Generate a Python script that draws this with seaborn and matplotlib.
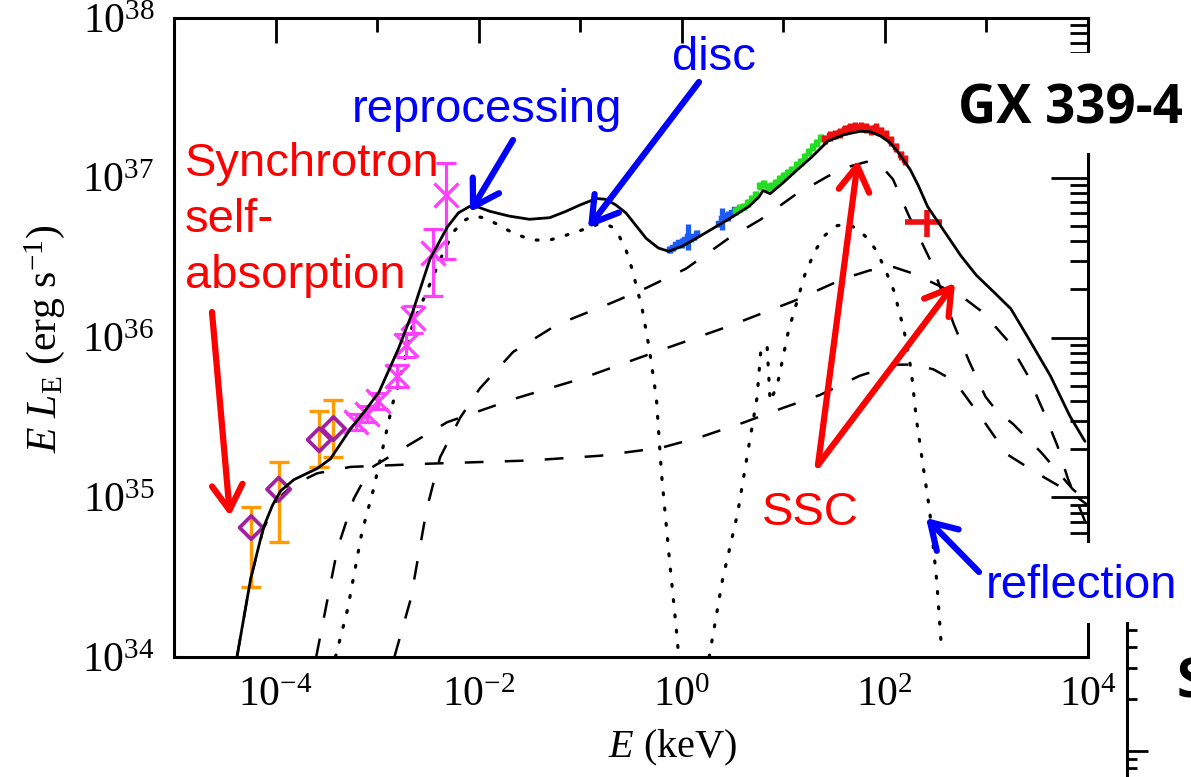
import numpy as np
import pandas as pd
import matplotlib
matplotlib.use("Agg")
import matplotlib.pyplot as plt
import seaborn as sns
from matplotlib.patches import Rectangle
from matplotlib.ticker import FixedLocator, NullFormatter, LogLocator

# ---------------- data (log10 values) ----------------
total_logE = [-4.38, -4.245, -4.12, -4.03, -3.95, -3.82, -3.59, -3.46, -3.26, -3.12, -2.98, -2.79, -2.65,
              -2.48, -2.31, -2.2, -2.09, -2.0, -1.89, -1.7, -1.5, -1.3, -1.14, -1.0, -0.84, -0.75, -0.65,
              -0.55, -0.45, -0.35, -0.23, -0.13, 0.0, 0.14, 0.3, 0.46, 0.66, 0.76, 0.80, 0.87, 1.0,
              1.12, 1.28, 1.44, 1.6, 1.75, 1.85, 1.96, 2.05, 2.13, 2.25, 2.33, 2.42, 2.59, 2.75,
              2.90, 3.08, 3.24, 3.40, 3.63, 3.82, 3.97]
total_logL = [34.0, 34.49, 34.81, 34.95, 35.04, 35.11, 35.18, 35.24, 35.43, 35.54, 35.66, 35.93, 36.16,
              36.49, 36.69, 36.78, 36.82, 36.815, 36.79, 36.76, 36.74, 36.75, 36.79, 36.83, 36.87, 36.865,
              36.83, 36.78, 36.70, 36.62, 36.56, 36.54, 36.57, 36.62, 36.68, 36.74, 36.82, 36.88, 36.92,
              36.90, 36.97, 37.04, 37.13, 37.23, 37.27, 37.29, 37.29, 37.26, 37.22, 37.16, 37.05, 36.95,
              36.82, 36.66, 36.51, 36.39, 36.28, 36.18, 36.01, 35.76, 35.51, 35.35]

compA_logE = [-4.38, -4.245, -4.12, -3.98, -3.82, -3.59, -3.26, -2.5, -1.5, -0.8, -0.2, 0.2, 0.62,
              1.0, 1.36, 1.75, 1.95, 2.12, 2.3, 2.48, 2.62, 2.74, 2.97, 3.2, 3.5, 3.85, 4.0]
compA_logL = [34.0, 34.49, 34.8, 34.99, 35.08, 35.15, 35.19, 35.21, 35.23, 35.26, 35.31, 35.38, 35.47,
              35.56, 35.64, 35.76, 35.80, 35.83, 35.83, 35.80, 35.75, 35.68, 35.48, 35.27, 35.15, 35.02, 34.95]

compB_logE = [-3.6, -3.39, -3.23, -3.07, -2.68, -2.31, -1.63, -1.0, -0.3, 0.46, 1.11, 1.60, 1.85, 2.09,
              2.28, 2.58, 2.73, 2.96, 3.21, 3.40, 3.56, 3.70, 3.80, 3.97]
compB_logL = [34.0, 34.68, 34.99, 35.18, 35.33, 35.47, 35.62, 35.74, 35.9, 36.07, 36.23, 36.37, 36.42, 36.44,
              36.40, 36.31, 36.27, 36.16, 35.98, 35.77, 35.54, 35.32, 35.12, 34.85]

compC_logE = [-2.83, -2.67, -2.51, -2.38, -2.18, -1.99, -1.66, -1.23, -0.68, -0.35, 0.04, 0.46, 0.78,
              1.11, 1.44, 1.65, 1.82, 1.97, 2.08, 2.23, 2.45, 2.68, 2.83, 2.99, 3.1, 3.26, 3.54, 3.85, 4.0]
compC_logL = [34.0, 34.36, 34.93, 35.25, 35.5, 35.68, 35.91, 36.08, 36.22, 36.31, 36.43, 36.62, 36.74,
              36.89, 37.01, 37.07, 37.10, 37.07, 36.99, 36.77, 36.48, 36.08, 35.85, 35.63, 35.54, 35.46,
              35.28, 35.05, 34.97]

reproc_logE = [-3.41, -3.29, -3.15, -3.04, -2.95, -2.85, -2.79, -2.65, -2.45, -2.35, -2.25, -2.15, -2.06,
               -1.95, -1.82, -1.65, -1.47, -1.3, -1.14, -0.95, -0.82, -0.75, -0.68, -0.62, -0.55, -0.49,
               -0.39, -0.32, -0.25, -0.2, -0.12, -0.05, -0.03]
reproc_logL = [34.0, 34.3, 34.78, 35.04, 35.29, 35.58, 35.7, 36.08, 36.38, 36.53, 36.66, 36.73, 36.76,
               36.75, 36.71, 36.65, 36.61, 36.61, 36.64, 36.68, 36.71, 36.71, 36.69, 36.64, 36.55, 36.43,
               36.18, 35.93, 35.62, 35.15, 34.6, 34.15, 34.0]

refl_logE = [0.27, 0.40, 0.55, 0.66, 0.74, 0.78, 0.84, 0.87, 0.94, 1.05, 1.21, 1.31, 1.41, 1.53, 1.63,
             1.73, 1.83, 1.92, 2.0, 2.09, 2.19, 2.26, 2.31, 2.38, 2.44, 2.51, 2.56]
refl_logL = [34.0, 34.48, 34.9, 35.32, 35.62, 35.93, 35.95, 35.6, 35.70, 36.04, 36.39, 36.54, 36.64, 36.70,
             36.71, 36.68, 36.62, 36.54, 36.43, 36.29, 36.04, 35.79, 35.49, 35.18, 34.92, 34.48, 34.03]

# radio/sub-mm points (purple diamonds, orange errors)
radio_logE = [-4.24, -3.97, -3.57, -3.43]
radio_logL = [34.81, 35.05, 35.36, 35.43]
radio_lo = [34.44, 34.72, 35.19, 35.25]
radio_hi = [34.94, 35.22, 35.54, 35.61]

# IR/optical points (magenta crosses)
ir_logE = [-3.21, -3.10, -2.99, -2.80, -2.72, -2.65, -2.45, -2.32]
ir_logL = [35.47, 35.52, 35.60, 35.76, 35.95, 36.12, 36.53, 36.89]
ir_lo = [35.42, 35.47, 35.55, 35.69, 35.88, 36.03, 36.26, 36.49]
ir_hi = [35.52, 35.57, 35.65, 35.83, 36.02, 36.20, 36.68, 37.09]

# X-ray data
blue_logE = [-0.12, -0.09, -0.06, -0.03, 0.0, 0.03, 0.06, 0.09, 0.12, 0.15, 0.37, 0.40, 0.43, 0.46, 0.49, 0.52]
blue_logL = [36.55, 36.56, 36.58, 36.59, 36.59, 36.61, 36.63, 36.62, 36.63, 36.65, 36.71, 36.74, 36.75, 36.76, 36.78, 36.80]
blue_err = [0.02, 0.02, 0.02, 0.02, 0.03, 0.02, 0.08, 0.02, 0.02, 0.02, 0.02, 0.07, 0.02, 0.03, 0.02, 0.02]

green_logE = [0.53, 0.57, 0.61, 0.65, 0.69, 0.73, 0.77, 0.81, 0.85, 0.89, 0.93, 0.97, 1.01, 1.05, 1.09,
              1.13, 1.17, 1.21, 1.25, 1.29, 1.33, 1.37]
green_logL = [36.79, 36.81, 36.82, 36.84, 36.87, 36.89, 36.95, 36.96, 36.94, 36.95, 36.97, 36.99, 37.01,
              37.03, 37.05, 37.08, 37.10, 37.13, 37.16, 37.19, 37.22, 37.25]

red_logE = [1.41, 1.46, 1.51, 1.56, 1.61, 1.66, 1.71, 1.76, 1.81, 1.86, 1.91, 1.96, 2.01, 2.06, 2.11, 2.16, 2.20]
red_logL = [37.24, 37.26, 37.27, 37.28, 37.30, 37.31, 37.32, 37.32, 37.31, 37.30, 37.31, 37.29, 37.27,
            37.23, 37.19, 37.14, 37.11]

gamma_logE = [2.41]
gamma_logL = [36.72]
gamma_xlo, gamma_xhi = [2.20], [2.56]
gamma_ylo, gamma_yhi = [36.63], [36.80]

xtick_labels = [r"$10^{-4}$", r"$10^{-2}$", r"$10^{0}$", r"$10^{2}$", r"$10^{4}$"]
ytick_labels = [r"$10^{34}$", r"$10^{35}$", r"$10^{36}$", r"$10^{37}$", r"$10^{38}$"]

# ---------------- style ----------------
sns.set_theme(style="white")
plt.rcParams["font.family"] = ["Liberation Serif", "DejaVu Serif"]
plt.rcParams["mathtext.fontset"] = "custom"
plt.rcParams["mathtext.rm"] = "Liberation Serif"
plt.rcParams["mathtext.it"] = "Liberation Serif:italic"
plt.rcParams["mathtext.bf"] = "Liberation Serif:bold"

W, H = 1191, 777
fig = plt.figure(figsize=(W / 100, H / 100), dpi=100)
fig.patch.set_facecolor("white")
ax = fig.add_axes([174 / W, 1 - 657 / H, (1088 - 174) / W, (657 - 18) / H])
ax.set_facecolor("white")
ax.set_xscale("log")
ax.set_yscale("log")


def lin(v):
    return 10 ** np.asarray(v, dtype=float)


def curve(logE, logL, **kw):
    df = pd.DataFrame({"E": lin(logE), "L": lin(logL)})
    sns.lineplot(data=df, x="E", y="L", ax=ax, sort=False, estimator=None, **kw)


DOT = dict(color="black", lw=2.3, linestyle=(0, (0.6, 4.2)), dash_capstyle="round", zorder=2)
curve(reproc_logE, reproc_logL, **DOT)
curve(refl_logE, refl_logL, **DOT)
for le, ll in [(compA_logE, compA_logL), (compB_logE, compB_logL), (compC_logE, compC_logL)]:
    curve(le, ll, color="black", lw=1.8, linestyle=(0, (7.5, 8.5)), zorder=2)

# data points
def yerr(logL, lo, hi):
    L = lin(logL)
    return np.vstack([L - lin(lo), lin(hi) - L])


ax.errorbar(lin(radio_logE), lin(radio_logL), yerr=yerr(radio_logL, radio_lo, radio_hi), fmt="none",
            ecolor="#ff9a00", elinewidth=2.4, capsize=7, capthick=2.4, zorder=3)
sns.scatterplot(x=lin(radio_logE), y=lin(radio_logL), ax=ax, marker="D", s=140,
                facecolors="none", edgecolor="#a0209f", linewidth=2.7, zorder=4)

ax.errorbar(lin(ir_logE), lin(ir_logL), yerr=yerr(ir_logL, ir_lo, ir_hi), fmt="none",
            ecolor="#ff40ff", elinewidth=2.3, capsize=7, capthick=2.3, zorder=3)
sns.scatterplot(x=lin(ir_logE), y=lin(ir_logL), ax=ax, marker="x", s=300, color="#ff40ff",
                linewidth=2.4, zorder=4)

def xray(logE, logL, err, color):
    E = lin(logE)
    L = lin(logL)
    xe = np.vstack([E - E * 10 ** -0.017, E * 10 ** 0.017 - E])
    ye = np.vstack([L - L * 10 ** -np.asarray(err), L * 10 ** np.asarray(err) - L])
    ax.errorbar(E, L, xerr=xe, yerr=ye, fmt="none", ecolor=color, elinewidth=3.8, zorder=3)
    sns.scatterplot(x=E, y=L, ax=ax, marker="s", s=16, color=color, edgecolor=color, zorder=3)


xray(blue_logE, blue_logL, blue_err, "#1a5cf5")
xray(green_logE, green_logL, [0.025] * len(green_logE), "#22dd22")
xray(red_logE, red_logL, [0.03] * len(red_logE), "#ee1010")

gE, gL = lin(gamma_logE), lin(gamma_logL)
ax.errorbar(gE, gL, xerr=np.vstack([gE - lin(gamma_xlo), lin(gamma_xhi) - gE]),
            yerr=yerr(gamma_logL, gamma_ylo, gamma_yhi), fmt="none", ecolor="#ee1010",
            elinewidth=4, zorder=3)

curve(total_logE, total_logL, color="black", lw=2.0, zorder=5)

ax.set_xlim(1e-5, 1e4)
ax.set_ylim(1e34, 1e38)
ax.set_xlabel("")
ax.set_ylabel("")

ax.xaxis.set_major_locator(FixedLocator([1e-4, 1e-2, 1e0, 1e2, 1e4]))
ax.xaxis.set_minor_locator(FixedLocator([1e-3, 1e-1, 1e1, 1e3]))
ax.xaxis.set_minor_formatter(NullFormatter())
ax.set_xticklabels(xtick_labels)
ax.yaxis.set_major_locator(FixedLocator([1e34, 1e35, 1e36, 1e37, 1e38]))
ax.yaxis.set_minor_locator(LogLocator(base=10, subs=np.arange(2, 10)))
ax.yaxis.set_minor_formatter(NullFormatter())
ax.set_yticklabels(ytick_labels)

ax.tick_params(which="both", direction="in", top=True, right=True, color="black", width=2,
               labelsize=30, labelcolor="black")
ax.tick_params(axis="x", which="major", length=18, pad=14)
ax.tick_params(axis="x", which="minor", length=10)
ax.tick_params(axis="y", which="major", length=27, pad=14)
ax.tick_params(axis="y", which="minor", length=13)
for sp in ax.spines.values():
    sp.set_color("black")
    sp.set_linewidth(2.2)
    sp.set_visible(True)

# axis titles
fig.text(673 / W, 1 - 748 / H, r"$E$ (keV)", ha="center", va="center", fontsize=29, color="black")
fig.text(45 / W, 1 - 339 / H, r"$E\ L_{\mathrm{E}}$ (erg s$^{\mathrm{-1}}$)", ha="center", va="center",
         rotation=90, fontsize=30, color="black")

# white cover boxes (slide overlay)
FT = fig.transFigure


def fx(x):
    return x / W


def fy(y):
    return 1 - y / H


for (x0, y0, x1, y1) in [(945, 53, 1191, 153), (980, 543, 1191, 623)]:
    ax.add_patch(Rectangle((fx(x0), fy(y1)), fx(x1) - fx(x0), fy(y0) - fy(y1), transform=FT,
                           facecolor="white", edgecolor="none", clip_on=False, zorder=6))

# annotations
sans = ["Liberation Sans", "DejaVu Sans"]
RED, BLUE = "#ff0000", "#0000ff"
texts = [("Synchrotron", 185, 176, RED), ("self-", 185, 232, RED), ("absorption", 185, 288, RED),
         ("reprocessing", 352, 122, BLUE), ("disc", 672, 70, BLUE), ("SSC", 762, 525, RED),
         ("reflection", 986, 598, BLUE)]
for s, x, y, c in texts:
    ax.text(fx(x), fy(y), s, transform=FT, ha="left", va="baseline", fontsize=34, color=c,
            family=sans, zorder=8)

arrows = [((212, 312), (230, 516), RED), ((513, 140), (470, 212), BLUE), ((699, 82), (588, 228), BLUE),
          ((818, 465), (858, 160), RED), ((818, 465), (955, 283), RED), ((979, 572), (926, 518), BLUE)]
for (tx, ty), (hx, hy), c in arrows:
    ax.annotate("", xy=(fx(hx), fy(hy)), xytext=(fx(tx), fy(ty)), xycoords=FT, textcoords=FT,
                arrowprops=dict(arrowstyle="->,head_length=0.9,head_width=0.55", lw=4.5, color=c,
                                shrinkA=0, shrinkB=0, mutation_scale=20),
                annotation_clip=False, zorder=8)

bold = ["Open Sans", "DejaVu Sans"]
ax.text(fx(958), fy(123), "GX 339-4", transform=FT, ha="left", va="baseline", fontsize=38,
        fontweight="bold", color="black", family=bold, zorder=8)

# neighbouring panel peeking in at bottom right
ax2 = fig.add_axes([1127 / W, 0, 0.25, (777 - 623) / H])
ax2.set_facecolor("none")
ax2.set_yscale("log")
ax2.set_ylim(10 ** -0.150, 10 ** 0.740)
ax2.set_xticks([])
ax2.yaxis.set_major_locator(FixedLocator([1.0]))
ax2.yaxis.set_minor_locator(LogLocator(base=10, subs=np.arange(2, 10)))
ax2.yaxis.set_major_formatter(NullFormatter())
ax2.yaxis.set_minor_formatter(NullFormatter())
ax2.tick_params(axis="y", which="both", direction="in", left=True, right=False, width=2, color="black")
ax2.tick_params(axis="y", which="major", length=15)
ax2.tick_params(axis="y", which="minor", length=7)
for k in ["top", "right", "bottom"]:
    ax2.spines[k].set_visible(False)
ax2.spines["left"].set_color("black")
ax2.spines["left"].set_linewidth(2.2)
fig.text(fx(1177), fy(697), "S", ha="left", va="baseline", fontsize=38, fontweight="bold",
         color="black", family=bold)

fig.savefig("out.png", dpi=100, facecolor="white")
